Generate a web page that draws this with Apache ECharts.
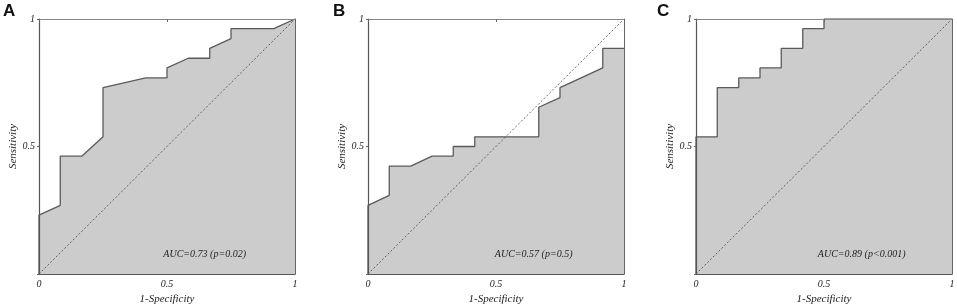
<!DOCTYPE html>
<html><head><meta charset="utf-8">
<script src="https://cdn.jsdelivr.net/npm/echarts@6/dist/echarts.min.js"></script>
<style>html,body{margin:0;padding:0;background:#fff}#c{width:957px;height:304px}</style>
</head><body><div id="c"></div>
<script>
const panelLetters = ['A', 'B', 'C'];
const aucLabels = ['AUC=0.73 (p=0.02)', 'AUC=0.57 (p=0.5)', 'AUC=0.89 (p<0.001)'];
const xTicks = [0, 0.5, 1];
const yTicks = [0.5, 1];

const fprA = [0, 0, 0.083, 0.083, 0.167, 0.25, 0.25, 0.417, 0.5, 0.5, 0.583, 0.667, 0.667, 0.75, 0.75, 0.917, 1];
const tprA = [0, 0.231, 0.269, 0.462, 0.462, 0.538, 0.731, 0.769, 0.769, 0.808, 0.846, 0.846, 0.885, 0.923, 0.962, 0.962, 1];

const fprB = [0, 0, 0.083, 0.083, 0.167, 0.25, 0.333, 0.333, 0.417, 0.417, 0.667, 0.667, 0.75, 0.75, 0.917, 0.917, 1];
const tprB = [0, 0.269, 0.308, 0.423, 0.423, 0.462, 0.462, 0.5, 0.5, 0.538, 0.538, 0.654, 0.692, 0.731, 0.808, 0.885, 0.885];

const fprC = [0, 0, 0.083, 0.083, 0.167, 0.167, 0.25, 0.25, 0.333, 0.333, 0.417, 0.417, 0.5, 0.5, 1];
const tprC = [0, 0.538, 0.538, 0.731, 0.731, 0.769, 0.769, 0.808, 0.808, 0.885, 0.885, 0.962, 0.962, 1, 1];

const diagX = [0, 1];
const diagY = [0, 1];

const curves = [[fprA, tprA], [fprB, tprB], [fprC, tprC]];

const gridLefts = [39, 368, 696];
const gridTop = 19, gridW = 256, gridH = 255;
const serif = '"Liberation Serif", "DejaVu Serif", serif';
const frameColor = '#555';

const grids = [], xAxes = [], yAxes = [], series = [], graphics = [];
curves.forEach((c, i) => {
  grids.push({ left: gridLefts[i], top: gridTop, width: gridW, height: gridH, containLabel: false, outerBoundsMode: 'none' });
  xAxes.push({
    type: 'value', gridIndex: i, min: 0, max: 1, interval: 0.5, position: 'bottom', z: 5,
    name: '1-Specificity', nameLocation: 'middle', nameGap: 17,
    nameTextStyle: { fontFamily: serif, fontStyle: 'italic', fontSize: 11, color: '#222' },
    axisLine: { show: true, onZero: false, lineStyle: { color: frameColor, width: 1.2 } },
    axisTick: { show: false },
    axisLabel: { fontFamily: serif, fontStyle: 'italic', fontSize: 10, color: '#222', margin: 5,
      formatter: v => xTicks.includes(v) ? String(v) : '' },
    splitLine: { show: false }
  });
  xAxes.push({
    type: 'value', gridIndex: i, min: 0, max: 1, interval: 0.5, position: 'top', z: 5,
    axisLine: { show: true, onZero: false, lineStyle: { color: '#888', width: 1 } },
    axisTick: { show: true, inside: true, length: 3, lineStyle: { color: '#666' } },
    axisLabel: { show: false }, splitLine: { show: false }
  });
  yAxes.push({
    type: 'value', gridIndex: i, min: 0, max: 1, interval: 0.5, position: 'left', z: 5,
    name: 'Sensitivity', nameLocation: 'middle', nameGap: 16,
    nameTextStyle: { fontFamily: serif, fontStyle: 'italic', fontSize: 11, color: '#222' },
    axisLine: { show: true, onZero: false, lineStyle: { color: frameColor, width: 1.2 } },
    axisTick: { show: true, length: 2, lineStyle: { color: '#666' } },
    axisLabel: { fontFamily: serif, fontStyle: 'italic', fontSize: 10, color: '#222', margin: 4,
      formatter: v => yTicks.includes(v) ? String(v) : '' },
    splitLine: { show: false }
  });
  yAxes.push({
    type: 'value', gridIndex: i, min: 0, max: 1, interval: 0.5, position: 'right', z: 5,
    axisLine: { show: true, onZero: false, lineStyle: { color: '#666', width: 1 } },
    axisTick: { show: false }, axisLabel: { show: false }, splitLine: { show: false }
  });
  series.push({
    type: 'line', xAxisIndex: 2 * i, yAxisIndex: 2 * i, symbol: 'none', z: 2,
    data: c[0].map((x, k) => [x, c[1][k]]),
    lineStyle: { color: '#5a5a5a', width: 1.3 },
    areaStyle: { color: '#cccccc', opacity: 1, origin: 'start' },
    silent: true, animation: false
  });
  series.push({
    type: 'line', xAxisIndex: 2 * i, yAxisIndex: 2 * i, symbol: 'none', z: 3,
    data: diagX.map((x, k) => [x, diagY[k]]),
    lineStyle: { color: '#444', width: 0.8, type: [2, 2] },
    silent: true, animation: false
  });
  graphics.push({
    type: 'text', left: [3, 333, 657][i], top: 3, z: 10,
    style: { text: panelLetters[i], font: 'bold 17px "Liberation Sans", Arial, sans-serif', fill: '#111' }
  });
  graphics.push({
    type: 'text', x: gridLefts[i] + gridW * 0.647, y: 254, z: 10,
    style: { text: aucLabels[i], font: 'italic 10px ' + serif, fill: '#222', textAlign: 'center', textVerticalAlign: 'middle' }
  });
});

const chart = echarts.init(document.getElementById('c'), null, { renderer: 'canvas' });
chart.setOption({
  animation: false,
  grid: grids, xAxis: xAxes, yAxis: yAxes, series: series, graphic: graphics
});
</script>
</body></html>
